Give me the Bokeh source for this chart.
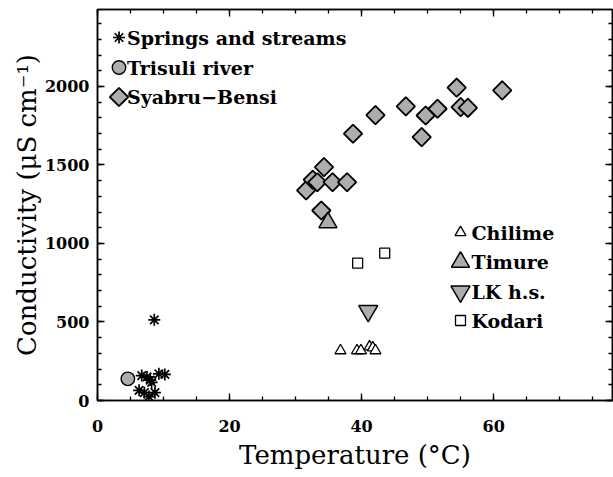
import math
from bokeh.plotting import figure
from bokeh.models import Range1d, SingleIntervalTicker, LinearAxis, Label
from bokeh.embed import file_html
from bokeh.resources import INLINE

# ---- data ----
springs_T = [8.6, 6.7, 7.5, 8.0, 8.2, 9.3, 10.2, 6.3, 7.1, 7.8, 8.7]
springs_C = [514, 159, 150, 130, 115, 170, 166, 65, 50, 25, 50]
trisuli_T = [4.6]
trisuli_C = [138]
syabru_T = [31.6, 32.6, 33.3, 33.9, 34.3, 35.6, 37.8, 38.7, 42.1, 46.7,
            49.1, 49.7, 51.5, 54.4, 55.0, 56.1, 61.3]
syabru_C = [1338, 1406, 1390, 1210, 1486, 1390, 1390, 1699, 1817, 1873,
            1677, 1815, 1858, 1992, 1868, 1864, 1975]
chilime_T = [36.8, 39.3, 39.9, 41.2, 41.7, 42.1]
chilime_C = [318, 318, 318, 342, 336, 318]
timure_T = [34.9]
timure_C = [1134]
lk_T = [41.0]
lk_C = [570]
kodari_T = [39.4, 43.5]
kodari_C = [875, 938]

x_range = (0, 78)
y_range = (0, 2490)
x_major, x_minor = 20, 4
y_major, y_minor = 500, 5

FONT = "DejaVu Serif"
GRAY = "#adadad"
FRAME_W, FRAME_H = 515, 391

p = figure(frame_width=FRAME_W, frame_height=FRAME_H,
           x_range=Range1d(*x_range), y_range=Range1d(*y_range),
           output_backend="svg", toolbar_location=None,
           min_border_left=97, min_border_right=1, min_border_top=9,
           min_border_bottom=0)
p.grid.visible = False
p.outline_line_color = "black"
p.outline_line_width = 1.5

def style_axis(ax, labels=True):
    ax.axis_line_color = "black"
    ax.axis_line_width = 1.5
    ax.major_tick_in = 7
    ax.major_tick_out = 0
    ax.minor_tick_in = 4
    ax.minor_tick_out = 0
    ax.major_tick_line_color = "black"
    ax.minor_tick_line_color = "black"
    ax.major_tick_line_width = 1.3
    ax.minor_tick_line_width = 1.3
    if labels:
        ax.major_label_text_font = FONT
        ax.major_label_text_font_style = "bold"
        ax.major_label_text_font_size = "16px"
        ax.major_label_text_color = "black"
        ax.axis_label_text_font = FONT
        ax.axis_label_text_font_style = "normal"
        ax.axis_label_text_font_size = "26px"
        ax.axis_label_text_color = "black"
    else:
        ax.major_label_text_font_size = "0px"
        ax.major_label_text_color = None
        ax.major_label_standoff = 0

p.xaxis.ticker = SingleIntervalTicker(interval=x_major, num_minor_ticks=x_minor)
p.yaxis.ticker = SingleIntervalTicker(interval=y_major, num_minor_ticks=y_minor)
style_axis(p.xaxis[0])
style_axis(p.yaxis[0])
p.xaxis.axis_label = "Temperature (°C)"
p.yaxis.axis_label = "Conductivity (μS cm⁻¹)"
p.xaxis.major_label_standoff = 19
p.xaxis.axis_label_standoff = 5
p.yaxis.major_label_standoff = 8
p.yaxis.axis_label_standoff = 0

top = LinearAxis(ticker=SingleIntervalTicker(interval=x_major, num_minor_ticks=x_minor))
right = LinearAxis(ticker=SingleIntervalTicker(interval=y_major, num_minor_ticks=y_minor))
style_axis(top, labels=False)
style_axis(right, labels=False)
p.add_layout(top, "above")
p.add_layout(right, "right")

# marker styles
ST_SPRINGS = dict(marker="asterisk", size=12, line_color="black", line_width=1.7)
ST_TRISULI = dict(marker="circle", size=13.5, fill_color=GRAY, line_color="black", line_width=1.4)
ST_SYABRU = dict(marker="square", angle=math.pi / 4, size=13, fill_color=GRAY,
                 line_color="black", line_width=1.8)
ST_CHILIME = dict(marker="triangle", size=11, fill_color="white", line_color="black", line_width=1.3)
ST_TIMURE = dict(marker="triangle", size=18, fill_color=GRAY, line_color="black", line_width=1.5)
ST_LK = dict(marker="inverted_triangle", size=19, fill_color=GRAY, line_color="black", line_width=1.5)
ST_KODARI = dict(marker="square", size=10, fill_color="white", line_color="black", line_width=1.3)

p.scatter(springs_T, springs_C, **ST_SPRINGS)
p.scatter(trisuli_T, trisuli_C, **ST_TRISULI)
p.scatter(syabru_T, syabru_C, **ST_SYABRU)
p.scatter(chilime_T, chilime_C, **ST_CHILIME)
p.scatter(timure_T, timure_C, **ST_TIMURE)
p.scatter(lk_T, lk_C, **ST_LK)
p.scatter(kodari_T, kodari_C, **ST_KODARI)

# ---- legends, laid out in frame pixels (from top-left of the frame) ----
p.extra_x_ranges = {"px": Range1d(0, FRAME_W)}
p.extra_y_ranges = {"py": Range1d(0, FRAME_H)}

legend_left = dict(sym_x=21.5, text_x=29.5, rows=[28, 58, 87.5],
                   entries=[("Springs and streams", ST_SPRINGS),
                            ("Trisuli river", ST_TRISULI),
                            ("Syabru\u2212Bensi", ST_SYABRU)])
legend_right = dict(sym_x=363, text_x=374, rows=[223, 252.5, 282, 311],
                    entries=[("Chilime", ST_CHILIME), ("Timure", ST_TIMURE),
                             ("LK h.s.", ST_LK), ("Kodari", ST_KODARI)])

for lg in (legend_left, legend_right):
    for row, (label, style) in zip(lg["rows"], lg["entries"]):
        p.scatter([lg["sym_x"]], [FRAME_H - row], x_range_name="px",
                  y_range_name="py", **style)
        p.add_layout(Label(x=lg["text_x"], y=FRAME_H - row, x_range_name="px",
                           y_range_name="py", text=label, text_baseline="middle",
                           text_align="left", text_font=FONT,
                           text_font_style="bold", text_font_size="19px",
                           text_color="black"))

open("out.html", "w").write(file_html(p, INLINE))
